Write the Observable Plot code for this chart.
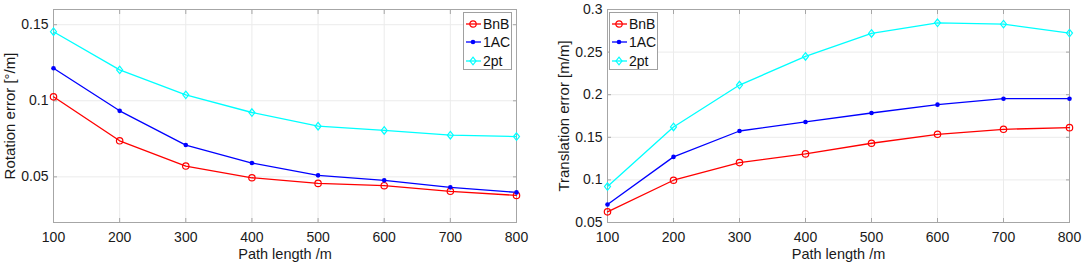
<!DOCTYPE html>
<html><head><meta charset="utf-8">
<script src="https://cdn.jsdelivr.net/npm/d3@7"></script>
<script src="https://cdn.jsdelivr.net/npm/@observablehq/plot@0.6"></script>
<style>
body{margin:0;background:#fff;}
#wrap{position:relative;width:1084px;height:265px;font-family:"Liberation Sans",Arial,sans-serif;overflow:hidden;}
.chart{position:absolute;top:0;}
.legend{position:absolute;top:12px;width:49px;height:58px;border:1px solid #a0a0a0;background:#fff;box-sizing:border-box;}
.legend .row{position:absolute;left:0;height:18px;display:flex;align-items:center;font-size:14px;color:#111;}
.legend svg{display:block;}
</style>
</head><body>
<div id="wrap"></div>
<script>
const pathLength = [100, 200, 300, 400, 500, 600, 700, 800];
const seriesNames = ["BnB", "1AC", "2pt"];
const seriesColors = ["#ff0000", "#0000ff", "#00ffff"];

const rotBnB = [0.1026, 0.0737, 0.0571, 0.0494, 0.0457, 0.0442, 0.0405, 0.0378];
const rot1AC = [0.1214, 0.0934, 0.0709, 0.0591, 0.0510, 0.0477, 0.0431, 0.0398];
const rot2pt = [0.1454, 0.1203, 0.1039, 0.0923, 0.0833, 0.0805, 0.0774, 0.0765];

const transBnB = [0.0625, 0.0996, 0.1203, 0.1305, 0.1430, 0.1535, 0.1594, 0.1613];
const trans1AC = [0.0711, 0.1270, 0.1574, 0.1680, 0.1785, 0.1883, 0.1953, 0.1953];
const trans2pt = [0.0922, 0.1621, 0.2113, 0.2449, 0.2719, 0.2844, 0.2828, 0.2723];

const rotTicks = [0.05, 0.1, 0.15];
const rotTickLabels = ["0.05", "0.1", "0.15"];
const transTicks = [0.05, 0.1, 0.15, 0.2, 0.25, 0.3];
const transTickLabels = ["0.05", "0.1", "0.15", "0.2", "0.25", "0.3"];
const xTickLabels = ["100", "200", "300", "400", "500", "600", "700", "800"];

function toRows(arrays) {
  const rows = [];
  arrays.forEach((arr, si) => arr.forEach((v, i) => rows.push({series: seriesNames[si], x: pathLength[i], y: v})));
  return rows;
}

const diamondSym = {
  draw(ctx, size) {
    const r = Math.sqrt(size / Math.PI);
    const h = r * 1.25, w = r * 1.0;
    ctx.moveTo(0, -h); ctx.lineTo(w, 0); ctx.lineTo(0, h); ctx.lineTo(-w, 0); ctx.closePath();
  }
};

const axisColor = "#a6a6a6";
const gridColor = "#ebebeb";
const textColor = "#1a1a1a";

function makeChart({rows, width, marginLeft, marginRight, yDomain, yTicks, yLabels, yTitle}) {
  const col = (s) => seriesColors[seriesNames.indexOf(s)];
  return Plot.plot({
    width, height: 265,
    marginLeft, marginRight, marginTop: 9, marginBottom: 43,
    style: {fontFamily: '"Liberation Sans", Arial, sans-serif', fontSize: "14px", color: textColor, background: "#fff"},
    x: {domain: [100, 800]},
    y: {domain: yDomain},
    marks: [
      Plot.gridX(pathLength, {stroke: gridColor, strokeOpacity: 1}),
      Plot.gridY(yTicks, {stroke: gridColor, strokeOpacity: 1}),
      Plot.axisX(pathLength, {anchor: "bottom", tickSize: 0, tickPadding: 10, tickFormat: (d, i) => xTickLabels[i], label: null, fontSize: 14}),
      Plot.axisY(yTicks, {anchor: "left", tickSize: 0, tickPadding: 5, tickFormat: (d, i) => yLabels[i], label: null, fontSize: 14}),
      Plot.axisX(pathLength, {anchor: "bottom", tickSize: -4, text: null, stroke: axisColor, label: null}),
      Plot.axisX(pathLength, {anchor: "top", tickSize: -4, text: null, stroke: axisColor, label: null}),
      Plot.axisY(yTicks, {anchor: "left", tickSize: -4, text: null, stroke: axisColor, label: null}),
      Plot.axisY(yTicks, {anchor: "right", tickSize: -4, text: null, stroke: axisColor, label: null}),
      Plot.frame({stroke: axisColor, strokeWidth: 1}),
      Plot.text(["Path length /m"], {frameAnchor: "bottom", dy: 36, lineAnchor: "bottom", textAnchor: "middle", fontSize: 14.5, fill: textColor}),
      Plot.text([yTitle], {frameAnchor: "left", dx: -43, rotate: -90, textAnchor: "middle", fontSize: 15, fill: textColor}),
      Plot.line(rows, {x: "x", y: "y", z: "series", stroke: d => col(d.series), strokeWidth: 1.3}),
      Plot.dot(rows.filter(d => d.series === "BnB"), {x: "x", y: "y", r: 3.2, stroke: seriesColors[0], strokeWidth: 1.2, fill: "none"}),
      Plot.dot(rows.filter(d => d.series === "1AC"), {x: "x", y: "y", r: 2.3, fill: seriesColors[1], stroke: "none"}),
      Plot.dot(rows.filter(d => d.series === "2pt"), {x: "x", y: "y", r: 3, symbol: diamondSym, stroke: seriesColors[2], strokeWidth: 1.2, fill: "none"})
    ]
  });
}

function makeLegend(left) {
  const lg = document.createElement("div");
  lg.className = "legend";
  lg.style.left = left + "px";
  const ys = [2, 20, 39];
  seriesNames.forEach((name, i) => {
    const row = document.createElement("div");
    row.className = "row";
    row.style.top = ys[i] + "px";
    const c = seriesColors[i];
    let marker;
    if (i === 0) marker = `<circle cx="9" cy="9" r="3.2" fill="none" stroke="${c}" stroke-width="1.2"/>`;
    else if (i === 1) marker = `<circle cx="9" cy="9" r="2.3" fill="${c}"/>`;
    else marker = `<path d="M9,5.2L12,9L9,12.8L6,9Z" fill="none" stroke="${c}" stroke-width="1.2"/>`;
    row.innerHTML = `<svg width="19" height="18"><line x1="2" x2="17" y1="9" y2="9" stroke="${c}" stroke-width="1.3"/>${marker}</svg><span>${name}</span>`;
    lg.appendChild(row);
  });
  return lg;
}

const wrap = document.getElementById("wrap");

const left = makeChart({
  rows: toRows([rotBnB, rot1AC, rot2pt]),
  width: 540, marginLeft: 53, marginRight: 24,
  yDomain: [0.02, 0.16], yTicks: rotTicks, yLabels: rotTickLabels, yTitle: "Rotation error [°/m]"
});
left.classList.add("chart"); left.style.left = "0px";
wrap.appendChild(left);

const right = makeChart({
  rows: toRows([transBnB, trans1AC, trans2pt]),
  width: 544, marginLeft: 67, marginRight: 15,
  yDomain: [0.05, 0.3], yTicks: transTicks, yLabels: transTickLabels, yTitle: "Translation error [m/m]"
});
right.classList.add("chart"); right.style.left = "540px";
wrap.appendChild(right);

wrap.appendChild(makeLegend(463));
wrap.appendChild(makeLegend(609));
</script>
</body></html>
